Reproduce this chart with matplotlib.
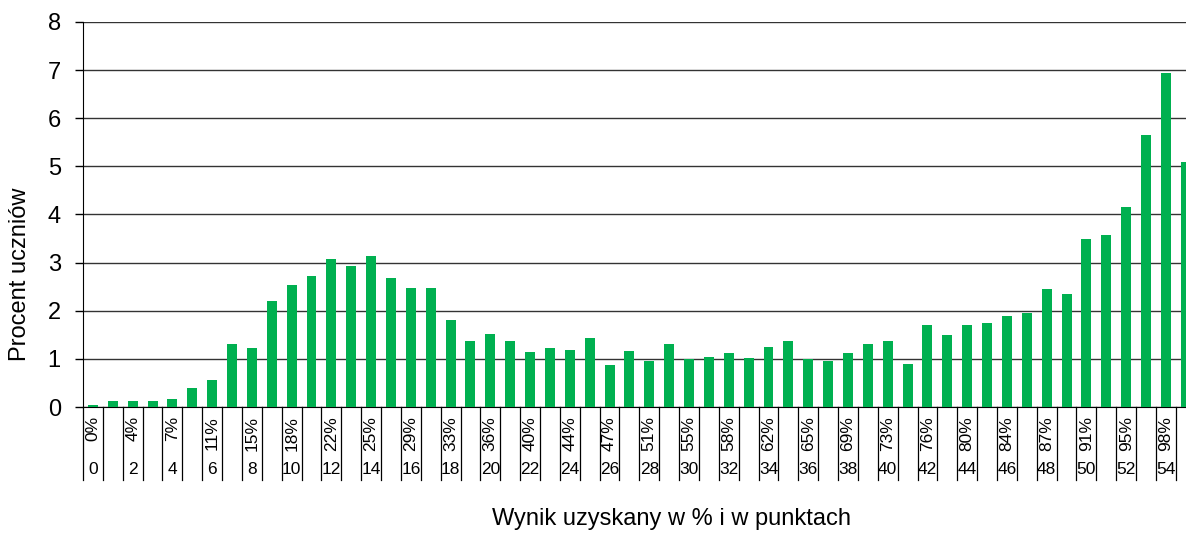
import matplotlib.pyplot as plt

plt.rcParams['font.family'] = ['Liberation Sans', 'DejaVu Sans']

# points scored (0..55) and percent of students
points = list(range(56))
students_pct = [0.05, 0.13, 0.13, 0.13, 0.16, 0.40, 0.56, 1.30, 1.22, 2.21,
                2.53, 2.72, 3.08, 2.93, 3.14, 2.69, 2.48, 2.48, 1.81, 1.38,
                1.52, 1.38, 1.15, 1.22, 1.19, 1.44, 0.88, 1.17, 0.96, 1.31,
                0.99, 1.04, 1.12, 1.01, 1.25, 1.38, 0.99, 0.96, 1.12, 1.31,
                1.38, 0.90, 1.71, 1.49, 1.71, 1.74, 1.90, 1.95, 2.46, 2.35,
                3.50, 3.58, 4.15, 5.66, 6.95, 5.10]

# labels under every second bar
label_points = [0, 2, 4, 6, 8, 10, 12, 14, 16, 18, 20, 22, 24, 26,
                28, 30, 32, 34, 36, 38, 40, 42, 44, 46, 48, 50, 52, 54]
label_pct = ["0%", "4%", "7%", "11%", "15%", "18%", "22%", "25%", "29%", "33%",
             "36%", "40%", "44%", "47%", "51%", "55%", "58%", "62%", "65%", "69%",
             "73%", "76%", "80%", "84%", "87%", "91%", "95%", "98%"]

fig = plt.figure(figsize=(11.86, 5.33), dpi=100)
ax = fig.add_axes([83 / 1186, 126 / 533, 1112.7 / 1186, 385 / 533])

ax.bar(points, students_pct, width=0.5, color='#00B050', zorder=3)

ax.set_xlim(-0.5, 55.5)
ax.set_ylim(0, 8)
ax.set_yticks(range(0, 9))
ax.tick_params(axis='y', labelsize=17, length=6, width=1, pad=10)
ax.set_xticks([])
ax.grid(axis='y', color='#333333', linewidth=1, zorder=0)

for s in ['top', 'right']:
    ax.spines[s].set_visible(False)
ax.spines['left'].set_color('black')
ax.spines['bottom'].set_color('black')

# category table below the axis
trans = ax.get_xaxis_transform()
ax_h = 385.0
for k in range(57):
    ax.plot([k - 0.5, k - 0.5], [0, -73 / ax_h], color='black', lw=0.9,
            transform=trans, clip_on=False)

for p, lab in zip(label_points, label_pct):
    ax.text(p, -9 / ax_h, lab, transform=trans, rotation=90, ha='center',
            va='top', fontsize=12.5)
    ax.text(p, -62 / ax_h, str(p), transform=trans, ha='center',
            va='center', fontsize=12.5)

fig.text(20 / 1186, 1 - 274 / 533, "Procent uczniów", rotation=90,
         ha='center', va='center', fontsize=17)
fig.text(671 / 1186, 1 - 519 / 533, "Wynik uzyskany w % i w punktach",
         ha='center', va='center', fontsize=17)

fig.savefig('out.png', dpi=100)
